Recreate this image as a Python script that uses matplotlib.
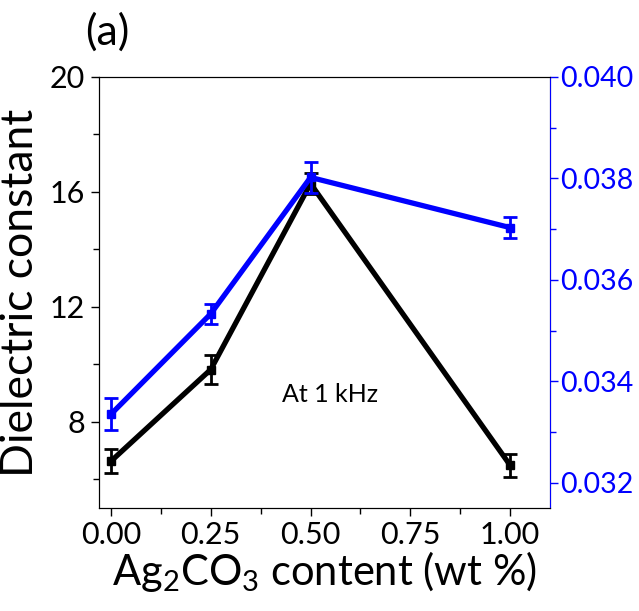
import numpy as np
from matplotlib import pyplot as plt
from matplotlib.ticker import MultipleLocator

plt.rcParams['font.family'] = ['Lato', 'DejaVu Sans']
plt.rcParams['mathtext.fontset'] = 'custom'
plt.rcParams['mathtext.rm'] = 'Lato'
plt.rcParams['mathtext.it'] = 'Lato'

# Ag2CO3 content (wt %)
content = [0.0, 0.25, 0.5, 1.0]

# dielectric constant at 1 kHz
eps = [6.63, 9.82, 16.29, 6.49]
eps_err = [0.42, 0.5, 0.37, 0.4]

# dielectric loss at 1 kHz
loss = [0.03335, 0.03533, 0.03802, 0.03703]
loss_err = [0.00031, 0.0002, 0.0003, 0.0002]

BLUE = '#0000ff'

fig = plt.figure(figsize=(6.39, 6.11), dpi=100)
ax = fig.add_axes([99 / 639, 1 - 508 / 611, 451 / 639, 431 / 611])

ax.errorbar(content, eps, yerr=eps_err, color='black', lw=3.8, marker='s',
            ms=6, capsize=5, elinewidth=2, capthick=2, zorder=3)
ax.set_xlim(-0.03, 1.1)
ax.set_ylim(5, 20)
ax.set_yticks([8, 12, 16, 20])
ax.yaxis.set_minor_locator(MultipleLocator(2))
ax.set_xticks([0.0, 0.25, 0.5, 0.75, 1.0])
ax.set_xticklabels(['0.00', '0.25', '0.50', '0.75', '1.00'])
ax.xaxis.set_minor_locator(MultipleLocator(0.125))
ax.tick_params(axis='both', which='major', direction='out', length=6,
               width=1, labelsize=22, colors='black')
ax.tick_params(axis='both', which='minor', direction='out', length=4, width=1)
ax.tick_params(axis='y', pad=4)
ax.tick_params(axis='x', pad=3)
ax.set_ylabel('Dielectric constant', fontsize=32, labelpad=6)
ax.set_xlabel(r'Ag$_2$CO$_3$ content (wt %)', fontsize=30, labelpad=0)
ax.text(0.55, 8.95, 'At 1 kHz', fontsize=18, ha='center', va='center')

ax2 = ax.twinx()
ax2.errorbar(content, loss, yerr=loss_err, color=BLUE, lw=3.8, marker='s',
             ms=6, capsize=5, elinewidth=2, capthick=2, zorder=4)
ax2.set_ylim(0.0315, 0.040)
ax2.set_yticks([0.032, 0.034, 0.036, 0.038, 0.040])
ax2.set_yticklabels(['0.032', '0.034', '0.036', '0.038', '0.040'])
ax2.yaxis.set_minor_locator(MultipleLocator(0.001))
ax2.tick_params(axis='y', which='major', direction='out', length=6, width=1,
                labelsize=20.5, colors=BLUE, pad=1)
ax2.tick_params(axis='y', which='minor', direction='out', length=4, width=1,
                colors=BLUE)
ax2.spines['right'].set_color(BLUE)

fig.text(85 / 639, 1 - 32 / 611, '(a)', fontsize=31, va='center', ha='left')

fig.savefig('out.png', dpi=100)
